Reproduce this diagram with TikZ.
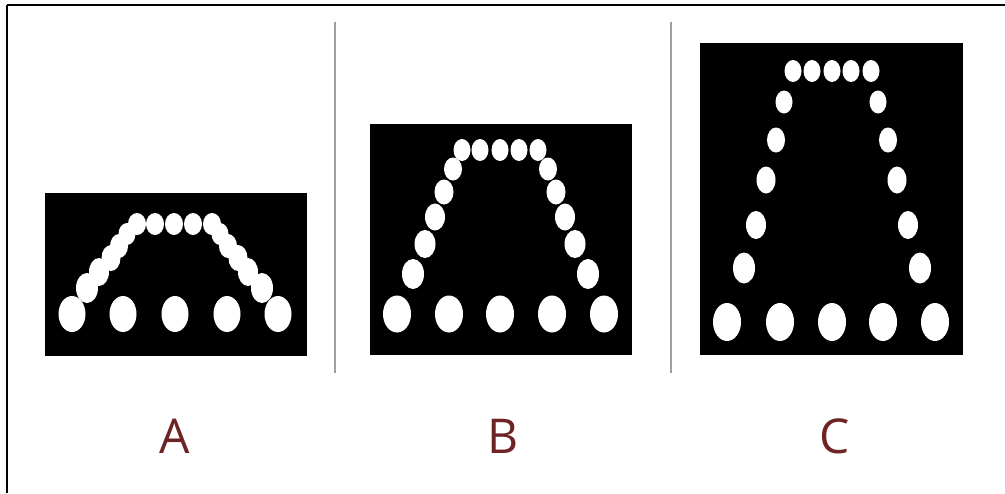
\documentclass[tikz,border=0pt]{standalone}
\usepackage{xcolor}
\usepackage{fontspec}
\setmainfont{Open Sans}
\usepackage{tikz}
\usetikzlibrary{calc}
\definecolor{labelred}{HTML}{6E2424}
\definecolor{sepgray}{HTML}{A0A0A0}

\begin{document}
\begin{tikzpicture}[x=0.5pt, y=-0.5pt]

\useasboundingbox (0,0) rectangle (1005,493);

% Frame
\draw [line width=1pt] (7,5) -- (1005,5);
\draw [line width=1pt] (7,5) -- (7,493);

% Separators
\draw [sepgray, line width=0.8pt] (335,22) -- (335,373);
\draw [sepgray, line width=0.8pt] (671,22) -- (671,373);

%==============================================================================================

% Panel A
\fill [black] (45,193) rectangle (307,356);
% top row
\fill [white] (137,224) ellipse [x radius=9, y radius=11];
\fill [white] (155,224) ellipse [x radius=9, y radius=11];
\fill [white] (174,224) ellipse [x radius=9, y radius=11];
\fill [white] (193,224) ellipse [x radius=9, y radius=11];
\fill [white] (212,224) ellipse [x radius=9, y radius=11];
% left side
\fill [white] (127,234) ellipse [x radius=8.5, y radius=11];
\fill [white] (119,246) ellipse [x radius=9, y radius=12];
\fill [white] (111,258) ellipse [x radius=9.5, y radius=13];
\fill [white] (99,272) ellipse [x radius=10, y radius=14];
\fill [white] (87,288) ellipse [x radius=11, y radius=15];
% right side
\fill [white] (220,234) ellipse [x radius=8.5, y radius=11];
\fill [white] (228,246) ellipse [x radius=9, y radius=12];
\fill [white] (238,258) ellipse [x radius=9.5, y radius=13];
\fill [white] (248,272) ellipse [x radius=10, y radius=14];
\fill [white] (262,288) ellipse [x radius=11, y radius=15];
% bottom row
\fill [white] (72,314) ellipse [x radius=13.5, y radius=18];
\fill [white] (123,314) ellipse [x radius=13.5, y radius=18];
\fill [white] (175,314) ellipse [x radius=13.5, y radius=18];
\fill [white] (227,314) ellipse [x radius=13.5, y radius=18];
\fill [white] (278,314) ellipse [x radius=13.5, y radius=18];

% Panel B
\fill [black] (370,124) rectangle (632,355);
% top row
\fill [white] (462,150) ellipse [x radius=8.5, y radius=11];
\fill [white] (480,150) ellipse [x radius=8.5, y radius=11];
\fill [white] (500,150) ellipse [x radius=8.5, y radius=11];
\fill [white] (519,150) ellipse [x radius=8.5, y radius=11];
\fill [white] (538,150) ellipse [x radius=8.5, y radius=11];
% left side
\fill [white] (453,169) ellipse [x radius=9, y radius=11.5];
\fill [white] (444,192) ellipse [x radius=9.5, y radius=12.5];
\fill [white] (435,217) ellipse [x radius=10, y radius=13.5];
\fill [white] (425,244) ellipse [x radius=10.5, y radius=14];
\fill [white] (413,274) ellipse [x radius=11, y radius=15];
% right side
\fill [white] (548,169) ellipse [x radius=9, y radius=11.5];
\fill [white] (556,192) ellipse [x radius=9.5, y radius=12.5];
\fill [white] (565,217) ellipse [x radius=10, y radius=13.5];
\fill [white] (575,244) ellipse [x radius=10.5, y radius=14];
\fill [white] (588,274) ellipse [x radius=11, y radius=15];
% bottom row
\fill [white] (397,314) ellipse [x radius=14, y radius=18.5];
\fill [white] (449,314) ellipse [x radius=14, y radius=18.5];
\fill [white] (500,314) ellipse [x radius=14, y radius=18.5];
\fill [white] (552,314) ellipse [x radius=14, y radius=18.5];
\fill [white] (604,314) ellipse [x radius=14, y radius=18.5];

% Panel C
\fill [black] (700,43) rectangle (963,355);
% top row
\fill [white] (793,71) ellipse [x radius=8.5, y radius=11];
\fill [white] (812,71) ellipse [x radius=8.5, y radius=11];
\fill [white] (832,71) ellipse [x radius=8.5, y radius=11];
\fill [white] (851,71) ellipse [x radius=8.5, y radius=11];
\fill [white] (871,71) ellipse [x radius=8.5, y radius=11];
% left side
\fill [white] (784,102) ellipse [x radius=8.5, y radius=11.5];
\fill [white] (776,140) ellipse [x radius=9, y radius=12.5];
\fill [white] (766,180) ellipse [x radius=9.5, y radius=13.5];
\fill [white] (756,225) ellipse [x radius=10, y radius=14];
\fill [white] (744,268) ellipse [x radius=11, y radius=15.5];
% right side
\fill [white] (878,102) ellipse [x radius=8.5, y radius=11.5];
\fill [white] (888,140) ellipse [x radius=9, y radius=12.5];
\fill [white] (897,180) ellipse [x radius=9.5, y radius=13.5];
\fill [white] (908,225) ellipse [x radius=10, y radius=14];
\fill [white] (920,268) ellipse [x radius=11, y radius=15.5];
% bottom row
\fill [white] (727,322) ellipse [x radius=14, y radius=19];
\fill [white] (780,322) ellipse [x radius=14, y radius=19];
\fill [white] (832,322) ellipse [x radius=14, y radius=19];
\fill [white] (883,322) ellipse [x radius=14, y radius=19];
\fill [white] (935,322) ellipse [x radius=14, y radius=19];

%==============================================================================================

% Naming
\node [labelred, font=\fontsize{24}{28}\selectfont] (labA) at (175,436) {A};
\node [labelred, font=\fontsize{24}{28}\selectfont] (labB) at (503,436) {B};
\node [labelred, font=\fontsize{24}{28}\selectfont] (labC) at (835,436) {C};

\end{tikzpicture}
\end{document}
